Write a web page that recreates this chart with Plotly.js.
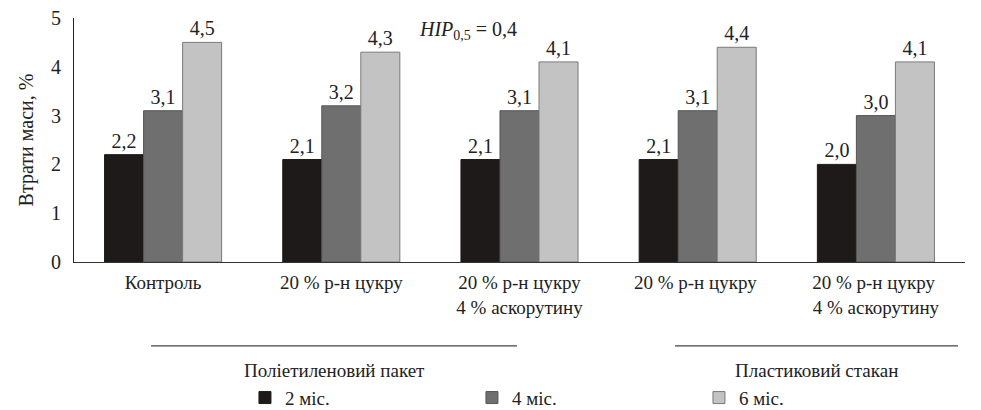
<!DOCTYPE html>
<html><head><meta charset="utf-8">
<script src="https://cdn.plot.ly/plotly-3.0.1.min.js"></script>
<style>html,body{margin:0;padding:0;background:#fff;}</style>
</head><body>
<div id="chart" style="width:981px;height:410px;"></div>
<script>
const categories = ["Контроль", "20 % р-н цукру", "20 % р-н цукру<br>4 % аскорутину", "20 % р-н цукру ", "20 % р-н цукру <br>4 % аскорутину"];
const seriesNames = ["2 міс.", "4 міс.", "6 міс."];
const m2 = [2.2, 2.1, 2.1, 2.1, 2.0];
const m4 = [3.1, 3.2, 3.1, 3.1, 3.0];
const m6 = [4.5, 4.3, 4.1, 4.4, 4.1];
const groupLabels = ["Поліетиленовий пакет", "Пластиковий стакан"];
const yTicks = [0, 1, 2, 3, 4, 5];

const colors = ["#1e1a19", "#6f6f6f", "#c3c3c3"];
const lines = ["#1e1a19", "#555555", "#7a7a7a"];
const serif = "Liberation Serif";
const fmt = v => v.toFixed(1).replace(".", ",");

const traces = [m2, m4, m6].map((vals, i) => ({
  type: "bar",
  name: seriesNames[i],
  x: categories,
  y: vals,
  text: vals.map(fmt),
  textposition: "outside",
  textfont: {family: serif, size: 20, color: "#222"},
  cliponaxis: false,
  marker: {color: colors[i], line: {color: lines[i], width: 1}},
  hoverinfo: "skip"
}));

const layout = {
  width: 981, height: 410,
  margin: {l: 74, r: 16, t: 18, b: 148, autoexpand: false},
  paper_bgcolor: "#fff", plot_bgcolor: "#fff",
  barmode: "group", bargap: 0.343, bargroupgap: 0,
  font: {family: serif, size: 19, color: "#222"},
  showlegend: true,
  legend: {orientation: "h", xref: "container", yref: "container", x: 0.2497, xanchor: "left", y: 0.03, yanchor: "middle",
           entrywidth: 182, entrywidthmode: "pixels", traceorder: "normal",
           font: {family: serif, size: 19, color: "#222"}, itemclick: false},
  xaxis: {type: "category", showline: true, linecolor: "#333", linewidth: 1,
          ticks: "", showgrid: false, zeroline: false, ticklabelstandoff: 3,
          tickfont: {family: serif, size: 19, color: "#222"}},
  yaxis: {range: [0, 5], tickvals: yTicks, ticktext: yTicks.map(String),
          showline: true, linecolor: "#222", linewidth: 1, ticks: "",
          showgrid: false, zeroline: false, ticklabelstandoff: 8,
          tickfont: {family: serif, size: 20, color: "#222"},
          title: {text: "Втрати маси, %", font: {family: serif, size: 20, color: "#222"}, standoff: 12}},
  shapes: [
    {type: "line", xref: "paper", yref: "paper", x0: (151-74)/891, x1: (517-74)/891, y0: -0.344, y1: -0.344, line: {color: "#444", width: 1.2}},
    {type: "line", xref: "paper", yref: "paper", x0: (675-74)/891, x1: (958-74)/891, y0: -0.344, y1: -0.344, line: {color: "#444", width: 1.2}}
  ],
  annotations: [
    {xref: "paper", yref: "paper", x: (334-74)/891, y: (262-370)/244, xanchor: "center", yanchor: "middle", text: groupLabels[0], showarrow: false, font: {family: serif, size: 19, color: "#222"}},
    {xref: "paper", yref: "paper", x: (816-74)/891, y: (262-370)/244, xanchor: "center", yanchor: "middle", text: groupLabels[1], showarrow: false, font: {family: serif, size: 19, color: "#222"}},
    {xref: "paper", yref: "paper", x: (468-74)/891, y: (262-30)/244, xanchor: "center", yanchor: "middle", text: "<i>HIP</i><sub>0,5</sub> = 0,4", showarrow: false, font: {family: serif, size: 20, color: "#222"}}
  ]
};

Plotly.newPlot("chart", traces, layout, {staticPlot: true, displayModeBar: false});
</script>
</body></html>
